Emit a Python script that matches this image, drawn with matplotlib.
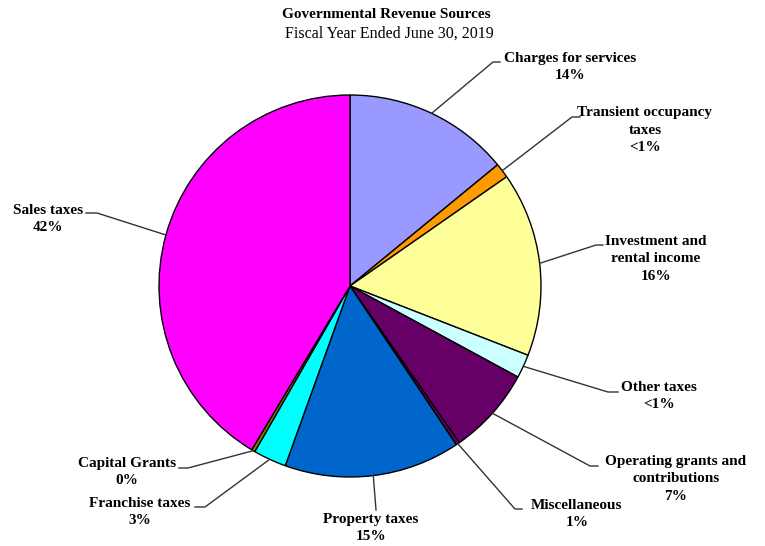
import matplotlib
matplotlib.use("Agg")
import matplotlib.pyplot as plt
from matplotlib.patches import Wedge
import numpy as np

# revenue sources, clockwise from 12 o'clock
sources = ["Charges for services", "Transient occupancy\ntaxes",
           "Investment and\nrental income", "Other taxes",
           "Operating grants and\ncontributions", "Miscellaneous",
           "Property taxes", "Franchise taxes", "Capital Grants", "Sales taxes"]
shares = [14.06, 1.25, 15.6, 2.0, 7.4, 0.3, 14.9, 2.8, 0.3, 41.4]
pct_labels = ["14%", "<1%", "16%", "<1%", "7%", "1%", "15%", "3%", "0%", "42%"]
colors = ["#9999FF", "#FF9900", "#FFFF99", "#CCFFFF", "#660066", "#660066",
          "#0066CC", "#00FFFF", "#808000", "#FF00FF"]

# label layout (pixel coords): text centre, leader elbow, leader end
text_pos = [(570, 67), (645, 130), (656, 259), (659, 396), (676, 479),
            (577, 514), (371, 528), (140, 512), (127, 472), (48, 219)]
elbow = [(493, 62), (572, 117), (596, 245), (608, 392), (590, 466),
         (515, 509), (376, 510), (205, 507), (188, 468), (97, 213)]
leader_end = [(500, 62), (580, 117), (603, 245), (618, 392), (598, 466),
              (522, 509), (376, 510), (195, 507), (179, 468), (86, 213)]

cx, cy, R = 350, 286, 191

fig = plt.figure(figsize=(7.65, 5.46), dpi=100)
ax = fig.add_axes([0, 0, 1, 1])
ax.set_xlim(0, 765)
ax.set_ylim(546, 0)
ax.set_aspect("equal")
ax.axis("off")

# y axis points down, so angle -90 is 12 o'clock and increasing angle is clockwise
total = sum(shares)
start = 0.0
anchors = []
for i, s in enumerate(shares):
    a0 = -90 + 360 * start / total
    a1 = -90 + 360 * (start + s) / total
    ax.add_patch(Wedge((cx, cy), R, a0, a1, facecolor=colors[i],
                       edgecolor="black", linewidth=1.0))
    am = np.deg2rad((a0 + a1) / 2)
    anchors.append((cx + R * np.cos(am), cy + R * np.sin(am)))
    start += s

font = dict(family="Liberation Serif", fontweight="bold", fontsize=11)
for i in range(len(sources)):
    xs = [anchors[i][0], elbow[i][0], leader_end[i][0]]
    ys = [anchors[i][1], elbow[i][1], leader_end[i][1]]
    ax.plot(xs, ys, color="#333333", linewidth=1.0)
    ax.text(text_pos[i][0], text_pos[i][1], sources[i] + "\n" + pct_labels[i],
            ha="center", va="center", linespacing=1.45, **font)

ax.text(386, 14, "Governmental Revenue Sources", ha="center", va="center",
        family="Liberation Serif", fontweight="bold", fontsize=11)
ax.text(389, 34, "Fiscal Year Ended June 30, 2019", ha="center", va="center",
        family="Liberation Serif", fontsize=11.5)

fig.savefig("out.png", dpi=100)
